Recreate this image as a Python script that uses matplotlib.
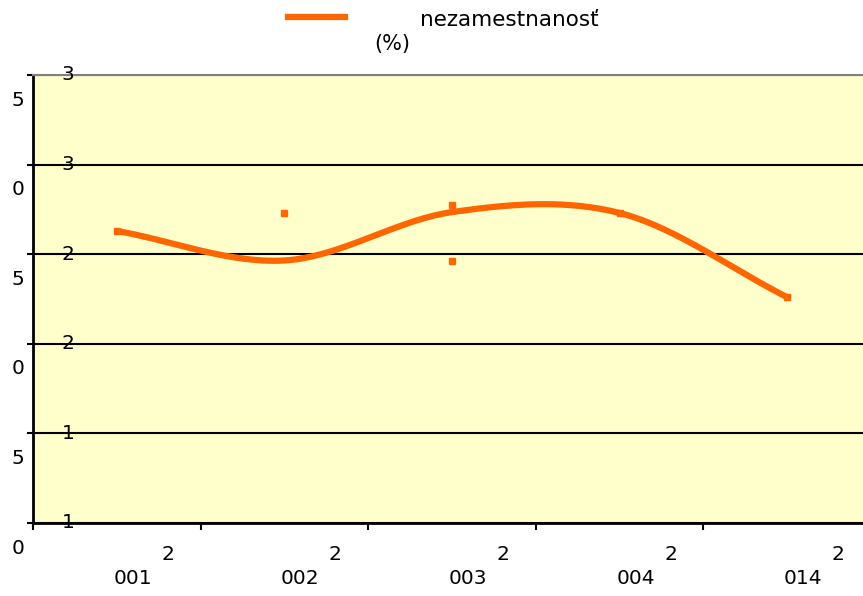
import matplotlib.pyplot as plt
import numpy as np

# data
years = ['2001', '2002', '2003', '2004', '2014']
unemployment = [26.3, 24.65, 27.35, 27.3, 22.6]

# stray square markers visible in the original
marker_x = [0, 1, 2, 2, 3, 4]
marker_y = [26.3, 27.3, 27.75, 24.62, 27.3, 22.6]

y_ticks = [10, 15, 20, 25, 30, 35]
legend_label = 'nezamestnanosť'

orange = '#FF6600'


def smooth(vals, n=60):
    # Excel-like smoothed line (cubic Hermite, finite-difference tangents)
    v = np.asarray(vals, dtype=float)
    m = np.gradient(v)
    xs, ys = [], []
    for i in range(len(v) - 1):
        t = np.linspace(0, 1, n)
        h00 = 2*t**3 - 3*t**2 + 1
        h10 = t**3 - 2*t**2 + t
        h01 = -2*t**3 + 3*t**2
        h11 = t**3 - t**2
        xs.append(i + t)
        ys.append(h00*v[i] + h10*m[i] + h01*v[i+1] + h11*m[i+1])
    return np.concatenate(xs), np.concatenate(ys)


fig = plt.figure(figsize=(8.63, 5.96), dpi=100)
# plot area runs a little past the right edge of the image
ax = fig.add_axes([33/863, 1 - 523/596, 838/863, 448/596])
ax.set_facecolor('#FFFFCC')

sx, sy = smooth(unemployment)
ax.plot(sx + 0.5, sy, color=orange, lw=4.5, solid_capstyle='butt', zorder=3)
ax.plot(np.array(marker_x) + 0.5, marker_y, ls='none', marker='s',
        ms=5, color=orange, zorder=4)

ax.set_xlim(0, 5)
ax.set_ylim(10, 35)
ax.set_yticks(y_ticks)
ax.set_xticks(range(6))
ax.set_yticklabels([])
ax.set_xticklabels([])
ax.grid(axis='y', color='black', lw=1.5)
ax.tick_params(axis='y', length=4.5, width=1.5, direction='out')
ax.tick_params(axis='x', length=5, width=1.5, direction='out')

ax.spines['right'].set_visible(False)
ax.spines['top'].set_color('#808080')
ax.spines['top'].set_linewidth(1.5)
ax.spines['left'].set_linewidth(2)
ax.spines['bottom'].set_linewidth(2)

fs = 14.5
# broken, wrapped tick labels as in the original
for v in y_ticks:
    s = str(v)
    ax.annotate(s[0], xy=(0, v), xycoords=ax.get_yaxis_transform(),
                xytext=(35, 0), textcoords='offset pixels',
                ha='center', va='center', fontsize=fs, annotation_clip=False)
    ax.annotate(s[1], xy=(0, v), xycoords=ax.get_yaxis_transform(),
                xytext=(-15, -25), textcoords='offset pixels',
                ha='center', va='center', fontsize=fs, annotation_clip=False)

for i, y in enumerate(years):
    ax.annotate(y[0], xy=(i + 0.5, 0), xycoords=ax.get_xaxis_transform(),
                xytext=(51, -32), textcoords='offset pixels',
                ha='center', va='center', fontsize=fs, annotation_clip=False)
    ax.annotate(y[1:], xy=(i + 0.5, 0), xycoords=ax.get_xaxis_transform(),
                xytext=(16, -56), textcoords='offset pixels',
                ha='center', va='center', fontsize=fs, annotation_clip=False)

# legend (drawn by hand, text wrapped like the original)
fig.add_artist(plt.Line2D([288/863, 345/863], [1 - 17/596, 1 - 17/596],
                          color=orange, lw=4.5))
fig.text(420/863, 1 - 20/596, legend_label, fontsize=15.5, ha='left', va='center')
fig.text(392/863, 1 - 44/596, '(%)', fontsize=15, ha='center', va='center')

fig.savefig('out.png', dpi=100)
